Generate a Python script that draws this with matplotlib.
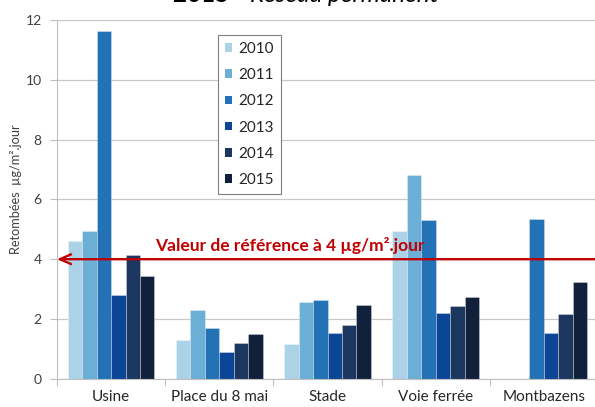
import matplotlib
matplotlib.use('Agg')
import matplotlib.pyplot as plt
import numpy as np
from matplotlib.patches import Patch

categories = ["Usine", "Place du 8 mai", "Stade", "Voie ferrée", "Montbazens"]
years = ["2010", "2011", "2012", "2013", "2014", "2015"]
v2010 = [4.60, 1.30, 1.15, 4.93, np.nan]
v2011 = [4.94, 2.30, 2.57, 6.83, np.nan]
v2012 = [11.62, 1.70, 2.62, 5.32, 5.34]
v2013 = [2.81, 0.88, 1.54, 2.20, 1.53]
v2014 = [4.13, 1.21, 1.79, 2.43, 2.18]
v2015 = [3.44, 1.49, 2.48, 2.72, 3.25]
series = [v2010, v2011, v2012, v2013, v2014, v2015]
reference_value = 4
yticks = [0, 2, 4, 6, 8, 10, 12]

colors = ["#ABD2E6", "#6BAED6", "#2272B5", "#0B4696", "#1B375F", "#12213B"]
red = "#C00000"

plt.rcParams['font.family'] = ['Lato', 'DejaVu Sans']

W, H = 595, 407
fig = plt.figure(figsize=(W / 100, H / 100), dpi=100)
x0, x1, ytop, ybot = 57, 598, 20, 378.8
ax = fig.add_axes([x0 / W, 1 - ybot / H, (x1 - x0) / W, (ybot - ytop) / H])

n = len(series)
bw = 0.8 / n
xc = np.arange(len(categories))
for j, (vals, c, lab) in enumerate(zip(series, colors, years)):
    ax.bar(xc + 0.1 + (j + 0.5) * bw, vals, width=bw, color=c,
           edgecolor=(1, 1, 1, 0.35), linewidth=0.6, label=lab, zorder=2)

ax.set_xlim(0, len(categories))
ax.set_ylim(0, 12)
ax.set_yticks(yticks)
ax.set_yticklabels([str(t) for t in yticks], fontsize=10, color='#404040')
ax.set_xticks(xc + 0.5)
ax.set_xticklabels(categories, fontsize=11, color='#262626')
ax.set_xticks(np.arange(len(categories) + 1), minor=True)
ax.tick_params(axis='x', which='major', length=0, pad=8)
ax.tick_params(axis='x', which='minor', length=5, color='#BFBFBF', width=0.8)
ax.tick_params(axis='y', length=5, color='#BFBFBF', width=0.8, pad=6)
ax.yaxis.grid(True, color='#C8C8C8', linewidth=0.9, zorder=0)
ax.set_axisbelow(True)
for s in ['top', 'right']:
    ax.spines[s].set_visible(False)
for s in ['left', 'bottom']:
    ax.spines[s].set_color('#BFBFBF')
    ax.spines[s].set_linewidth(0.8)

# reference line with arrow
ax.annotate('', xy=(0, reference_value), xytext=(len(categories) + 0.2, reference_value),
            arrowprops=dict(arrowstyle='->,head_length=0.8,head_width=0.35', color=red,
                            lw=1.7, mutation_scale=10, shrinkA=0, shrinkB=0),
            annotation_clip=False, zorder=5)
ax.text(0.905, 4.45, "Valeur de référence à 4 µg/m².jour", color=red,
        fontsize=12.5, fontweight='bold', ha='left', va='center', zorder=6)

# legend
handles = [Patch(facecolor=c, edgecolor='none', label=y) for c, y in zip(colors, years)]
leg = ax.legend(handles=handles, loc='upper left', bbox_to_anchor=(218 / W, 1 - 35 / H),
                bbox_transform=fig.transFigure, fancybox=False, edgecolor='#7F7F7F',
                framealpha=1, fontsize=11, borderpad=0.45, handlelength=0.48,
                handleheight=0.48, handletextpad=0.42, labelspacing=0.8, borderaxespad=0)
leg.get_frame().set_linewidth(0.8)
for t in leg.get_texts():
    t.set_color('#262626')

# y label
fig.text(16 / W, 1 - 189 / H, "Retombées  µg/m².jour", rotation=90, ha='center',
         va='center', fontsize=9.2, color='#404040')

# title (cropped at top, as in the source image)
fig.text(173 / W, 1 - 2.5 / H, "2015 -", fontsize=17.5, fontweight='bold',
         ha='left', va='baseline', color='#000000')
fig.text(250 / W, 1 - 2.5 / H, "Réseau permanent", fontsize=17.5, fontstyle='italic',
         ha='left', va='baseline', color='#000000')

fig.savefig('out.png', dpi=100)
